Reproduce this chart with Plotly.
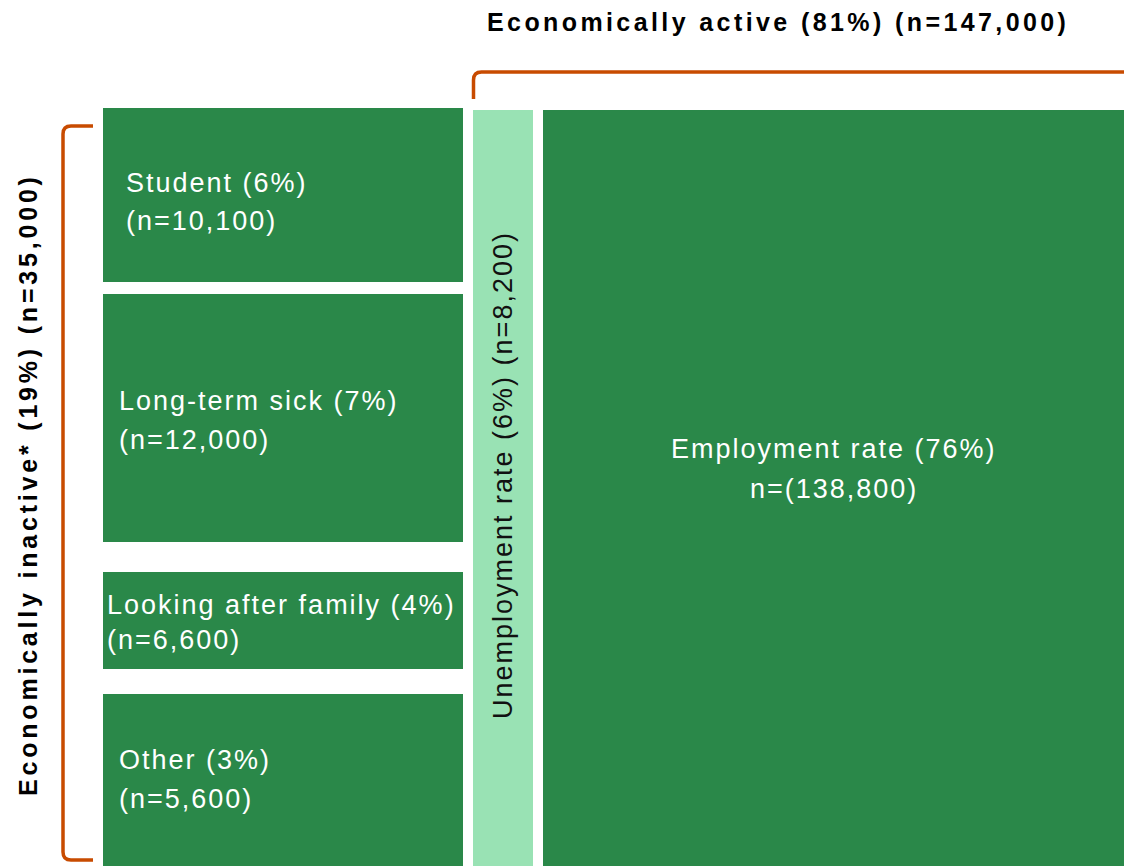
import plotly.graph_objects as go

# ---------------- data ----------------
categories = ["Student", "Long-term sick", "Looking after family", "Other",
              "Unemployment rate", "Employment rate"]
percent = [6, 7, 4, 3, 6, 76]
counts = [10100, 12000, 6600, 5600, 8200, 138800]
groups = ["Economically active", "Economically inactive*"]
group_percent = [81, 19]
group_counts = [147000, 35000]

# ---------------- layout constants (pixel-like axis units) ----------------
W, H = 1124, 866
GREEN = "#2A8849"
LIGHT = "#99E2B4"
ORANGE = "#C84B00"
FONT = "Liberation Sans, Arial, sans-serif"

# box geometry: x0, x1, y0, y1 (y measured from top)
boxes = [
    (103, 463, 108, 282),
    (103, 463, 294, 542),
    (103, 463, 572, 669),
    (103, 463, 694, 866),
    (473, 533, 110, 866),
    (543, 1124, 110, 866),
]
fills = [GREEN, GREEN, GREEN, GREEN, LIGHT, GREEN]

def sp(txt, ls):
    return f'<span style="letter-spacing:{ls}px">{txt}</span>'

fig = go.Figure()
fig.add_trace(go.Scatter(x=[0, W], y=[0, H], mode="markers",
                         marker=dict(opacity=0), hoverinfo="skip", showlegend=False))

shapes = []
for (x0, x1, y0, y1), c in zip(boxes, fills):
    shapes.append(dict(type="rect", xref="x", yref="y", x0=x0, x1=x1, y0=y0, y1=y1,
                       fillcolor=c, line=dict(width=0), layer="below"))

# brackets
shapes.append(dict(type="path", xref="x", yref="y",
                   path="M 473.5 99 L 473.5 80 Q 473.5 72 481.5 72 L 1126 72",
                   line=dict(color=ORANGE, width=3.5)))
shapes.append(dict(type="path", xref="x", yref="y",
                   path="M 93 126 L 71 126 Q 63 126 63 134 L 63 852 Q 63 860 71 860 L 93 860",
                   line=dict(color=ORANGE, width=3.5)))

ann = []
def fmt(n):
    return f"{n:,}"

# left column labels (two lines each, left aligned)
left_pos = [(124, 183, 221), (117, 401, 440), (105, 605, 640), (117, 760, 799)]
for i, (lx, y1, y2) in enumerate(left_pos):
    ann.append(dict(x=lx, y=y1, xref="x", yref="y", xanchor="left", yanchor="middle",
                    text=sp(f"{categories[i]} ({percent[i]}%)", 2), showarrow=False,
                    font=dict(family=FONT, size=27, color="white")))
    ann.append(dict(x=lx, y=y2, xref="x", yref="y", xanchor="left", yanchor="middle",
                    text=sp(f"(n={fmt(counts[i])})", 2), showarrow=False,
                    font=dict(family=FONT, size=27, color="white")))

# unemployment (rotated)
ann.append(dict(x=503, y=475, xref="x", yref="y", xanchor="center", yanchor="middle",
                textangle=-90, showarrow=False,
                text=sp(f"{categories[4]} ({percent[4]}%) (n={fmt(counts[4])})", 2),
                font=dict(family=FONT, size=27, color="#111111")))

# employment
ann.append(dict(x=834, y=449, xref="x", yref="y", xanchor="center", yanchor="middle",
                showarrow=False, text=sp(f"{categories[5]} ({percent[5]}%)", 2),
                font=dict(family=FONT, size=27, color="white")))
ann.append(dict(x=834, y=489, xref="x", yref="y", xanchor="center", yanchor="middle",
                showarrow=False, text=sp(f"n=({fmt(counts[5])})", 2),
                font=dict(family=FONT, size=27, color="white")))

# group labels
ann.append(dict(x=778, y=22, xref="x", yref="y", xanchor="center", yanchor="middle",
                showarrow=False,
                text="<b>" + sp(f"{groups[0]} ({group_percent[0]}%) (n={fmt(group_counts[0])})", 3.4) + "</b>",
                font=dict(family=FONT, size=25, color="#000000")))
ann.append(dict(x=28, y=485, xref="x", yref="y", xanchor="center", yanchor="middle",
                textangle=-90, showarrow=False,
                text="<b>" + sp(f"{groups[1]} ({group_percent[1]}%) (n={fmt(group_counts[1])})", 3.8) + "</b>",
                font=dict(family=FONT, size=25, color="#000000")))

fig.update_layout(
    width=W, height=H,
    margin=dict(l=0, r=0, t=0, b=0),
    paper_bgcolor="white", plot_bgcolor="white",
    xaxis=dict(range=[0, W], visible=False, fixedrange=True),
    yaxis=dict(range=[H, 0], visible=False, fixedrange=True),
    shapes=shapes, annotations=ann, showlegend=False,
)

fig.write_html("out.html", config={"displayModeBar": False},
               post_script="document.body.style.margin='0px';document.body.style.overflow='hidden';")
